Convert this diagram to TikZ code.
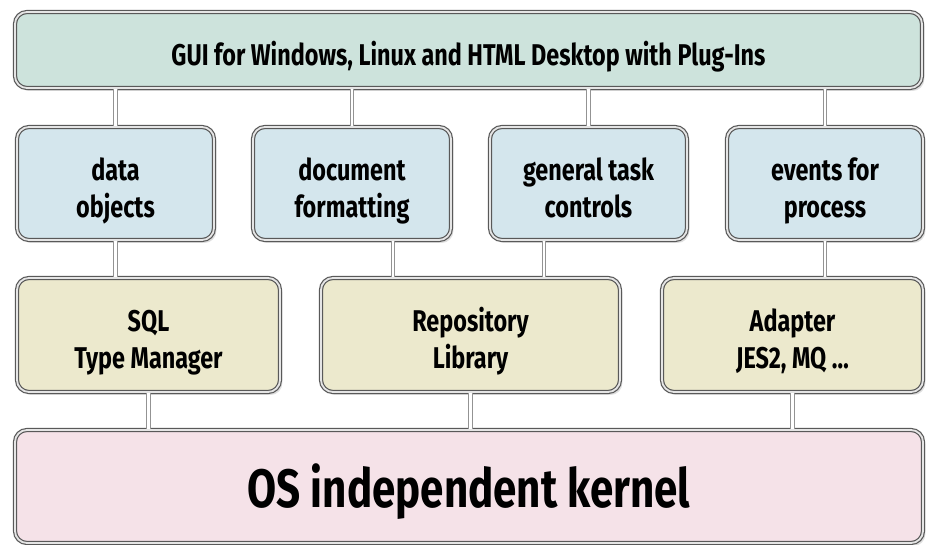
\documentclass[tikz,border=0pt]{standalone}
\usepackage{fontspec}
\setmainfont{Fira Sans}[FakeStretch=0.78]
\usetikzlibrary{shadows, positioning}

\definecolor{guifill}{RGB}{205,227,220}
\definecolor{modfill}{RGB}{212,230,237}
\definecolor{libfill}{RGB}{236,233,205}
\definecolor{kernfill}{RGB}{245,226,232}

% two lines of box text, set a little low as in the drawing
\newcommand{\layertext}[2]{\begin{tabular}{@{}c@{}}\rule{0pt}{21pt}#1\\#2\strut\end{tabular}}

\tikzset{
  layerbox/.style={draw=gray!70!black, double=gray!20, double distance=0.9pt, line width=0.6pt,
    rounded corners=6pt, inner sep=0pt,
    font=\fontsize{15}{18.5}\selectfont\bfseries,
    drop shadow={shadow xshift=1.2pt, shadow yshift=-1.5pt, opacity=0.25}},
  oneline/.style={execute at begin node={\rule{0pt}{#1}}, execute at end node=\strut},
  link/.style={draw=gray!85, double=white, double distance=1.1pt, line width=0.6pt}
}

\begin{document}
\begin{tikzpicture}[x=0.5pt, y=-0.5pt]
\useasboundingbox[fill=white] (0,0) rectangle (928,545);

% GUI layer
\node[layerbox, oneline=21pt, fill=guifill, minimum width=453.5pt, minimum height=38pt,
  font=\fontsize{15}{18}\selectfont\bfseries] (gui) at (468.5,50)
  {GUI for Windows, Linux and HTML Desktop with Plug-Ins};

% module layer
\node[layerbox, fill=modfill, minimum width=98.5pt, minimum height=56.5pt] (data) at (115.5,183.5) {\layertext{data}{objects}};
\node[layerbox, fill=modfill, minimum width=99pt, minimum height=56.5pt] (docf) at (352,183.5) {\layertext{document}{formatting}};
\node[layerbox, fill=modfill, minimum width=98.5pt, minimum height=56.5pt] (task) at (588.5,183.5) {\layertext{general task}{controls}};
\node[layerbox, fill=modfill, minimum width=98pt, minimum height=56.5pt] (events) at (825,183.5) {\layertext{events for}{process}};

% library layer
\node[layerbox, fill=libfill, minimum width=131.5pt, minimum height=57pt] (sql) at (148.5,335) {\layertext{SQL}{Type Manager}};
\node[layerbox, fill=libfill, minimum width=149.5pt, minimum height=57pt] (repo) at (470.5,335) {\layertext{Repository}{Library}};
\node[layerbox, fill=libfill, minimum width=130.5pt, minimum height=57pt] (adapter) at (792.5,335) {\layertext{Adapter}{JES2, MQ \dots}};

% kernel
\node[layerbox, oneline=30pt, fill=kernfill, minimum width=454pt, minimum height=56.5pt,
  font=\fontsize{27}{30}\selectfont\bfseries] (kernel) at (469,486.5) {OS independent kernel};

% connectors
\coordinate (lx) at (393,0);
\coordinate (rx) at (544,0);
\foreach \m in {data, docf, task, events}
  \draw[link] (gui.south -| \m.north) -- (\m.north);
\draw[link] (data.south) -- (data.south |- sql.north);
\draw[link] (lx |- docf.south) -- (lx |- repo.north);
\draw[link] (rx |- task.south) -- (rx |- repo.north);
\draw[link] (events.south) -- (events.south |- adapter.north);
\foreach \l in {sql, repo, adapter}
  \draw[link] (\l.south) -- (\l.south |- kernel.north);
\end{tikzpicture}
\end{document}
